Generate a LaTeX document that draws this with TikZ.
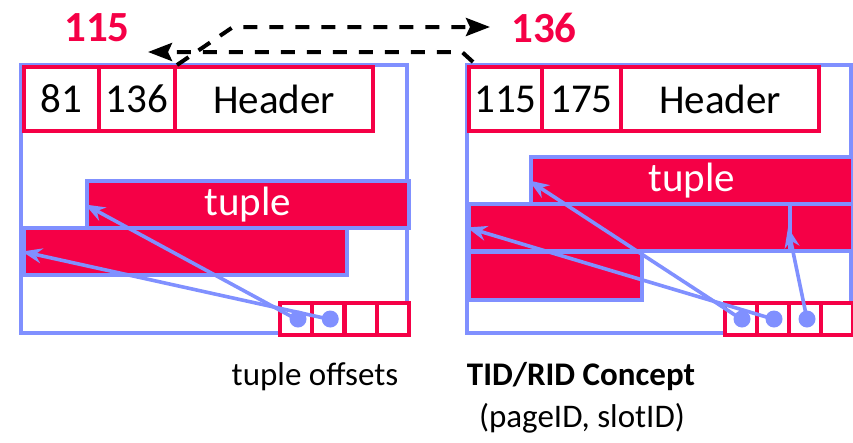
\documentclass[tikz,border=0pt]{standalone}
\usepackage{fontspec}
\setmainfont{Carlito}
\usetikzlibrary{arrows.meta,positioning}
\definecolor{pageblue}{RGB}{128,144,255}
\definecolor{slotred}{RGB}{245,0,70}
\tikzset{
  page/.style={draw=pageblue, line width=4pt},
  hdrbox/.style={draw=slotred, fill=white, line width=4pt, anchor=north west,
    minimum height=64pt, inner sep=0pt, font=\fontsize{41}{49}\selectfont},
  tuplebox/.style={draw=pageblue, fill=slotred, line width=4pt, anchor=north west,
    inner sep=0pt, text=white, font=\fontsize{41}{49}\selectfont},
  slot/.style={draw=slotred, fill=white, line width=4pt, anchor=north west,
    minimum width=32pt, minimum height=32pt, inner sep=0pt},
  slotdot/.style={circle, fill=pageblue, minimum size=17pt, inner sep=0pt},
  pointer/.style={draw=pageblue, line width=3.6pt, -{Stealth[length=20pt,width=15pt]}},
  swap/.style={draw=black, line width=4pt, dash pattern=on 14pt off 12pt,
    -{Stealth[length=24pt,width=18pt,inset=4pt]}},
  pgnum/.style={text=slotred, font=\fontsize{43}{50}\selectfont\bfseries},
  caption/.style={anchor=base, font=\fontsize{33}{40}\selectfont}
}
\begin{document}
\begin{tikzpicture}[x=1pt, y=-1pt]
  \useasboundingbox (0,0) rectangle (853,442);
  % left page
  \draw[page] (21,65) rectangle (407,333);
  \node[tuplebox, minimum width=322pt, minimum height=47pt] (lt1) at (85,179) {tuple};
  \node[tuplebox, minimum width=323pt, minimum height=47pt] (lt2) at (22,226) {};
  \node[hdrbox, minimum width=75pt] (l81) at (22,65) {81};
  \node[hdrbox, minimum width=76pt] (l136) at (97,65) {136};
  \node[hdrbox, minimum width=198pt] (lhdr) at (173,65) {Header};
  \foreach \i in {0,...,3}
    \node[slot] (ls\i) at ({278+32.25*\i},301) {};
  \draw[pointer] (ls0.center) -- (lt1.west);
  \draw[pointer] (ls1.center) -- (lt2.west);
  \node[slotdot] (ld0) at ([xshift=2pt]ls0.center) {};
  \node[slotdot] (ld1) at ([xshift=2pt]ls1.center) {};

  % right page
  \draw[page] (467,65) rectangle (851,333);
  \node[tuplebox, minimum width=322pt, minimum height=47pt] (rt1) at (529,155) {tuple};
  \node[tuplebox, minimum width=321pt, minimum height=47pt] (rt2) at (467,202) {};
  \node[tuplebox, minimum width=63pt, minimum height=47pt] (rt3) at (788,202) {};
  \node[tuplebox, minimum width=173pt, minimum height=48pt] (rt4) at (467,250) {};
  \node[hdrbox, minimum width=73pt] (r115) at (467,65) {115};
  \node[hdrbox, minimum width=79pt] (r175) at (540,65) {175};
  \node[hdrbox, minimum width=198pt] (rhdr) at (619,65) {Header};
  \foreach \i in {0,...,3}
    \node[slot] (rs\i) at ({723+32*\i},301) {};
  \draw[pointer] (rs0.center) -- (rt1.west);
  \draw[pointer] (rs1.center) -- (rt2.west);
  \draw[pointer] ([xshift=2pt]rs2.center) -- (rt3.west);
  \node[slotdot] (rd0) at ([xshift=1pt]rs0.center) {};
  \node[slotdot] (rd1) at ([xshift=1pt]rs1.center) {};
  \node[slotdot] (rd2) at ([xshift=2pt]rs2.center) {};

  % page numbers and swapped pointers
  \node[pgnum] (num115) at (97,28) {115};
  \node[pgnum] (num136) at (544,28) {136};
  \coordinate (bendA) at (233,27);
  \coordinate (endA) at (490,27);
  \coordinate (startB) at (473,62);
  \coordinate (bendB) at (462,52);
  \coordinate (endB) at (148,52);
  \draw[swap] (l136.north east) -- (bendA) -- (endA);
  \draw[swap] (startB) -- (bendB) -- (endB);

  % captions
  \node[caption] (offs) at (315,385) {tuple offsets};
  \node[caption, font=\fontsize{33}{40}\selectfont\bfseries] (tid) at (581,385) {TID/RID Concept};
  \node[caption] (tidsub) at (582,427) {(pageID, slotID)};
\end{tikzpicture}
\end{document}
